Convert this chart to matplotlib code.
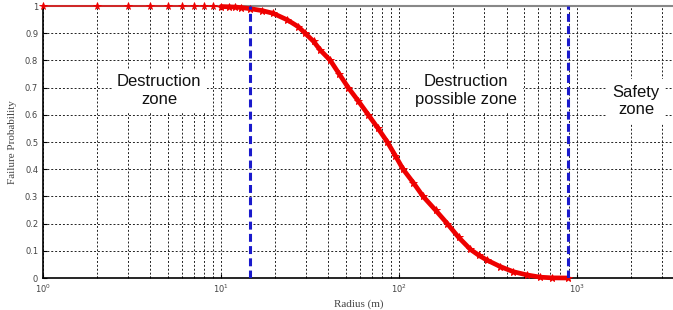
import numpy as np
import matplotlib
matplotlib.use("Agg")
import matplotlib.pyplot as plt
from matplotlib.ticker import LogLocator, NullFormatter

radius = [1, 2, 3, 4, 5, 6, 7, 8, 9, 10, 11, 12, 13, 14.6, 17, 19.6, 23.5, 27.1, 29.6,
          33, 36, 41, 46, 51.7, 59, 67, 76, 85.7, 95, 105, 120, 136, 160, 186, 215,
          251, 280, 310, 369, 437, 523, 619, 720, 890]
prob = [1.0, 1.0, 1.0, 1.0, 1.0, 1.0, 1.0, 1.0, 0.999, 0.998, 0.997, 0.996, 0.994, 0.99,
        0.983, 0.973, 0.949, 0.924, 0.9, 0.87, 0.838, 0.8, 0.75, 0.7, 0.65, 0.6, 0.55,
        0.5, 0.45, 0.4, 0.35, 0.3, 0.249, 0.2, 0.15, 0.105, 0.083, 0.066, 0.042, 0.023,
        0.011, 0.003, 0.0005, 0.0]
zone_limits = [14.5, 890]
zone_labels = ["Destruction\nzone", "Destruction\npossible zone", "Safety\nzone"]
zone_label_x = [4.5, 238, 2140]
zone_label_y = [0.69, 0.69, 0.65]
yticks = [0, 0.1, 0.2, 0.3, 0.4, 0.5, 0.6, 0.7, 0.8, 0.9, 1]

fig = plt.figure(figsize=(6.73, 3.10), dpi=100)
ax = fig.add_axes([43/673, 1-278/310, 1-43/673 + 0.002, (278-6)/310])
ax.set_xscale("log")
ax.set_xlim(1, 3500)
ax.set_ylim(0, 1)

ax.grid(True, which="major", axis="both", linestyle=(0, (2, 2)), color="#222222", linewidth=0.7)
ax.grid(True, which="minor", axis="x", linestyle=(0, (2, 2)), color="#222222", linewidth=0.7)
ax.set_axisbelow(True)

# thin line with star markers over the whole range
ax.plot(radius, prob, color="#ee0000", linewidth=1.0, marker="*", markersize=5.5,
        markeredgewidth=0.6, clip_on=False, zorder=4)
# dense part of the curve (r >= 10) appears as a thick band
dense = [i for i, r in enumerate(radius) if r >= 10]
ax.plot([radius[i] for i in dense], [prob[i] for i in dense], color="#ee0000",
        linewidth=3.4, marker="*", markersize=5, markeredgewidth=0.6, clip_on=False,
        zorder=4, solid_joinstyle="round", solid_capstyle="round")

for xv in zone_limits:
    ax.plot([xv, xv], [0, 1], color="#1a1acc", linewidth=2.2, linestyle=(0, (2.6, 1.4)), zorder=5)

for lab, xv, yv in zip(zone_labels, zone_label_x, zone_label_y):
    ax.text(xv, yv, lab, ha="center", va="center", fontsize=12, family="Liberation Sans",
            color="#111111", linespacing=1.2,
            bbox=dict(facecolor="white", edgecolor="none", pad=4), zorder=3)

ax.set_yticks(yticks)
ax.set_yticklabels([("%g" % v) for v in yticks])
ax.xaxis.set_major_locator(LogLocator(base=10, numticks=10))
ax.xaxis.set_minor_locator(LogLocator(base=10, subs=np.arange(2, 10), numticks=20))
ax.xaxis.set_minor_formatter(NullFormatter())
ax.tick_params(axis="both", which="both", direction="in", labelsize=6, labelcolor="#444444",
               length=3)
ax.tick_params(axis="x", which="minor", length=1.5)

for s in ["left", "bottom"]:
    ax.spines[s].set_color("black")
    ax.spines[s].set_linewidth(1.2)
ax.spines["top"].set_color("#888888")
ax.spines["top"].set_linewidth(1.5)
ax.spines["right"].set_visible(False)

ax.set_xlabel("Radius (m)", family="Liberation Serif", fontsize=8, color="#444444", labelpad=3)
ax.set_ylabel("Failure Probability", family="Liberation Serif", fontsize=8, color="#444444",
              labelpad=6)

fig.savefig("out.png", dpi=100)
